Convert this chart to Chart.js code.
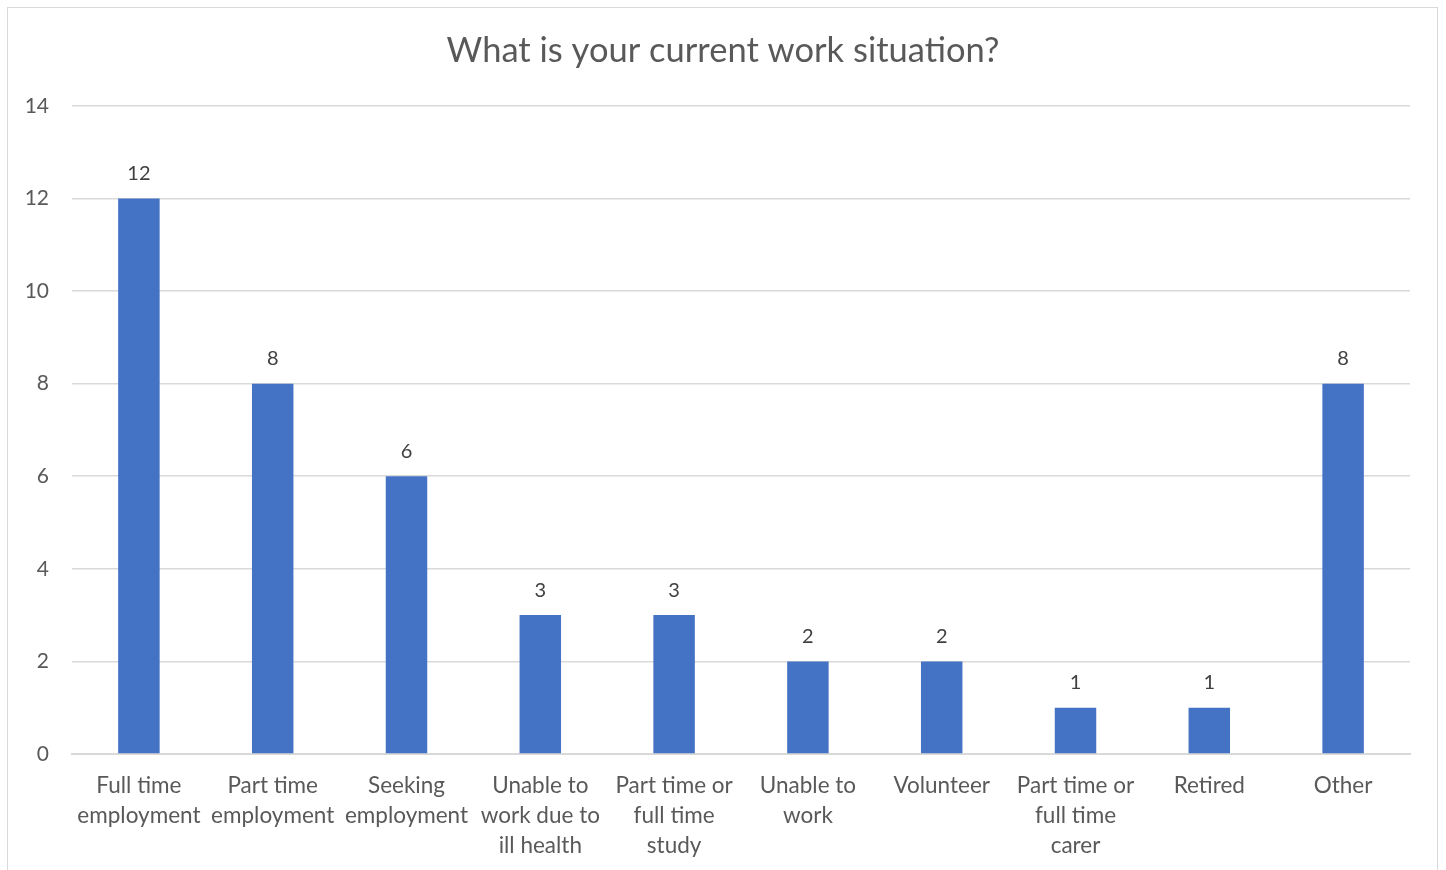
<!DOCTYPE html>
<html>
<head>
<meta charset="utf-8">
<script src="https://cdn.jsdelivr.net/npm/chart.js@4"></script>
<style>
    body { margin: 0; background: #fff; overflow: hidden; }
    #frame { position: absolute; left: 7px; top: 7px; width: 1431px; height: 900px; border: 1px solid #d9d9d9; box-sizing: border-box; }
    #wrap { position: absolute; left: 0; top: 0; width: 1446px; height: 870px; }
</style>
</head>
<body>
<div id="frame"></div>
<div id="wrap"><canvas id="chart"></canvas></div>
<script>
    const categories = [
        ['Full time', 'employment'],
        ['Part time', 'employment'],
        ['Seeking', 'employment'],
        ['Unable to', 'work due to', 'ill health'],
        ['Part time or', 'full time', 'study'],
        ['Unable to', 'work'],
        ['Volunteer'],
        ['Part time or', 'full time', 'carer'],
        ['Retired'],
        ['Other']
    ];
    const counts = [12, 8, 6, 3, 3, 2, 2, 1, 1, 8];
    const yTicks = [0, 2, 4, 6, 8, 10, 12, 14];

    const FONT = 'Lato, "Open Sans", sans-serif';

    // value labels above each bar
    const barValues = {
        id: 'barValues',
        afterDatasetsDraw(chart) {
            const ctx = chart.ctx;
            const meta = chart.getDatasetMeta(0);
            ctx.save();
            ctx.font = '20px ' + FONT;
            ctx.fillStyle = '#404040';
            ctx.textAlign = 'center';
            ctx.textBaseline = 'middle';
            meta.data.forEach((bar, i) => {
                ctx.fillText(String(counts[i]), bar.x, bar.y - 25);
            });
            ctx.restore();
        }
    };

    new Chart(document.getElementById('chart'), {
        type: 'bar',
        data: {
            labels: categories,
            datasets: [{
                data: counts,
                backgroundColor: '#4472C4',
                barPercentage: 0.62,
                categoryPercentage: 0.5
            }]
        },
        options: {
            responsive: true,
            maintainAspectRatio: false,
            animation: false,
            layout: { padding: 0 },
            plugins: {
                legend: { display: false },
                tooltip: { enabled: false },
                title: {
                    display: true,
                    text: 'What is your current work situation?',
                    color: '#595959',
                    font: { family: FONT, size: 34.5, weight: 'normal' },
                    padding: { top: 30, bottom: 34.5 }
                }
            },
            scales: {
                x: {
                    grid: { display: false, drawTicks: false },
                    border: { color: '#d9d9d9', width: 2 },
                    ticks: {
                        color: '#595959',
                        font: { family: FONT, size: 22.5, lineHeight: 1.333 },
                        padding: 17,
                        maxRotation: 0,
                        autoSkip: false
                    },
                    afterFit(scale) { scale.height = 116; }
                },
                y: {
                    min: 0,
                    max: 14,
                    afterBuildTicks(scale) { scale.ticks = yTicks.map(v => ({ value: v })); },
                    grid: { color: '#d9d9d9', lineWidth: 1.5, drawTicks: false },
                    border: { display: false },
                    ticks: {
                        color: '#595959',
                        font: { family: FONT, size: 21 },
                        padding: 23
                    },
                    afterFit(scale) { scale.width = 72; }
                },
                // empty right-hand spacer so the title stays centred on the page
                spacer: {
                    position: 'right',
                    grid: { display: false, drawTicks: false },
                    border: { display: false },
                    ticks: { display: false },
                    afterFit(scale) { scale.width = 36; }
                }
            }
        },
        plugins: [barValues]
    });
</script>
</body>
</html>
